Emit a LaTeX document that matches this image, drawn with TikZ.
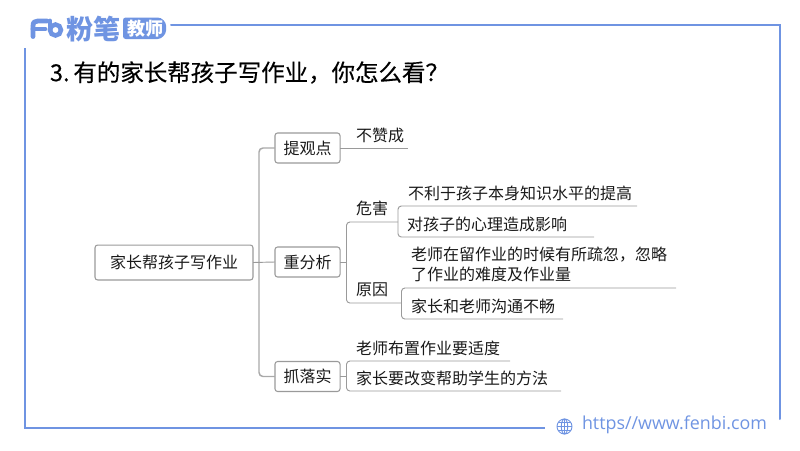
\documentclass[tikz,border=0pt]{standalone}
\usepackage{fontspec}
\setmainfont{Noto Sans CJK SC}
\newfontfamily\latinfont{Open Sans}
\newfontfamily\titlefont[FakeBold=0.35]{Noto Sans CJK SC}
\definecolor{fb}{HTML}{6F94E2}
\definecolor{ln}{HTML}{9A9A9A}
\tikzset{
  x=0.75pt,y=-0.75pt,
  every node/.style={inner sep=0pt,outer sep=0pt,text=black!90},
  frame/.style={draw=fb,line width=1.5pt},
  box/.style={draw=ln,rounded corners=2pt,line width=0.8pt,anchor=center},
  txt/.style={anchor=west,font=\fontsize{12pt}{14pt}\selectfont},
  conn/.style={draw=ln,line width=0.7pt,rounded corners=2.5pt},
  trunk/.style={draw=ln!85,line width=1.1pt,rounded corners=3pt},
}
\begin{document}
\begin{tikzpicture}
\useasboundingbox (0,0) rectangle (800,450);
% frame
\draw[frame,line cap=round] (171,25) -- (780,25) -- (780,419);
\draw[frame] (24.5,48) -- (24.5,428) -- (545,428);
% logo
\draw[draw=fb,line width=3.6pt,line cap=round,line join=round] (33,36.5) -- (33,26) .. controls (33,22) and (35,21) .. (38,21) -- (47,21);
\draw[draw=fb,line width=3.6pt,line cap=round] (33,29) -- (45,29);
\draw[draw=fb,line width=3.6pt,line cap=round] (50,21) -- (50,30);
\draw[draw=fb,line width=3.4pt] (55.5,30) circle (5.5);
\node[anchor=west,font=\fontsize{20.3pt}{20pt}\selectfont\bfseries,text=fb] (brand) at (66,29) {粉笔};
\fill[fb,rounded corners=2pt] (123,17.5) -- (155,17.5) .. controls (162,17.5) and (166,22) .. (166,28) .. controls (166,34) and (162,39) .. (155,39) -- (123,39) -- cycle;
\node[anchor=west,font=\fontsize{13.5pt}{14pt}\selectfont\bfseries,text=white] (pill) at (127,28.5) {教师};
% title
\node[anchor=west,font=\titlefont\fontsize{17.6pt}{20pt}\selectfont,text=black] (title) at (50,72.5) {3.\,有的家长帮孩子写作业，你怎么看？};
% nodes
\node[box,minimum width=118.5pt,minimum height=26.2pt,txt,anchor=center] (root) at (174,262.5) {家长帮孩子写作业};
\node[box,minimum width=48.8pt,minimum height=22.5pt,txt,anchor=center] (a) at (307.5,148) {提观点};
\node[box,minimum width=48.8pt,minimum height=22.5pt,txt,anchor=center] (b) at (307.5,262) {重分析};
\node[box,minimum width=48.8pt,minimum height=22.5pt,txt,anchor=center] (c) at (307.5,376.5) {抓落实};
\node[txt] (a1) at (356,135) {不赞成};
\node[txt] (b1) at (356,208) {危害};
\node[txt] (b2) at (356,290) {原因};
\node[txt] (b11) at (408,193) {不利于孩子本身知识水平的提高};
\node[txt] (b12) at (407,224) {对孩子的心理造成影响};
\node[txt,align=left,font=\fontsize{12pt}{15pt}\selectfont] (b21) at (411,264.5) {老师在留作业的时候有所疏忽，忽略\\了作业的难度及作业量};
\node[txt] (b22) at (411,306) {家长和老师沟通不畅};
\node[txt] (c1) at (356,348) {老师布置作业要适度};
\node[txt] (c2) at (356,378) {家长要改变帮助学生的方法};
% connector ends
\coordinate (ae) at (408,148);
\coordinate (h) at (398,222);
\coordinate (y) at (401.5,303);
\coordinate (e11) at (637,206);
\coordinate (e12) at (594,237);
\coordinate (e21) at (676,288);
\coordinate (e22) at (563,319);
\coordinate (e1) at (510,361);
\coordinate (e2) at (561,391);
% connectors
\draw[trunk] (a.west) -- (259,148) -- (259,376.5) -- (c.west);
\draw[conn] (root.east) -- (b.west);
\draw[conn] (a.east) -- (ae);
\draw[conn] (b.east) -- (346.5,262);
\draw[conn] (h) -- (346.5,222) -- (346.5,303) -- (y);
\draw[conn] (e11) -- (398,206) -- (398,237) -- (e12);
\draw[conn] (e21) -- (401.5,288) -- (401.5,319) -- (e22);
\draw[conn] (c.east) -- (346.5,376.5);
\draw[conn] (e1) -- (346.5,361) -- (346.5,391) -- (e2);
% footer
\begin{scope}[draw=fb,line width=0.7pt]
\draw (564.5,426.5) circle (7.5);
\draw (564.5,426.5) ellipse (3.2 and 7.5);
\draw (564.5,419) -- (564.5,434);
\draw (557,426.5) -- (572,426.5);
\draw (558,422.5) -- (571,422.5);
\draw (558,430.5) -- (571,430.5);
\end{scope}
\node[anchor=west,font=\latinfont\fontsize{13.4pt}{14pt}\selectfont,text=fb] (url) at (582,425) {https//www.fenbi.com};
\end{tikzpicture}
\end{document}
